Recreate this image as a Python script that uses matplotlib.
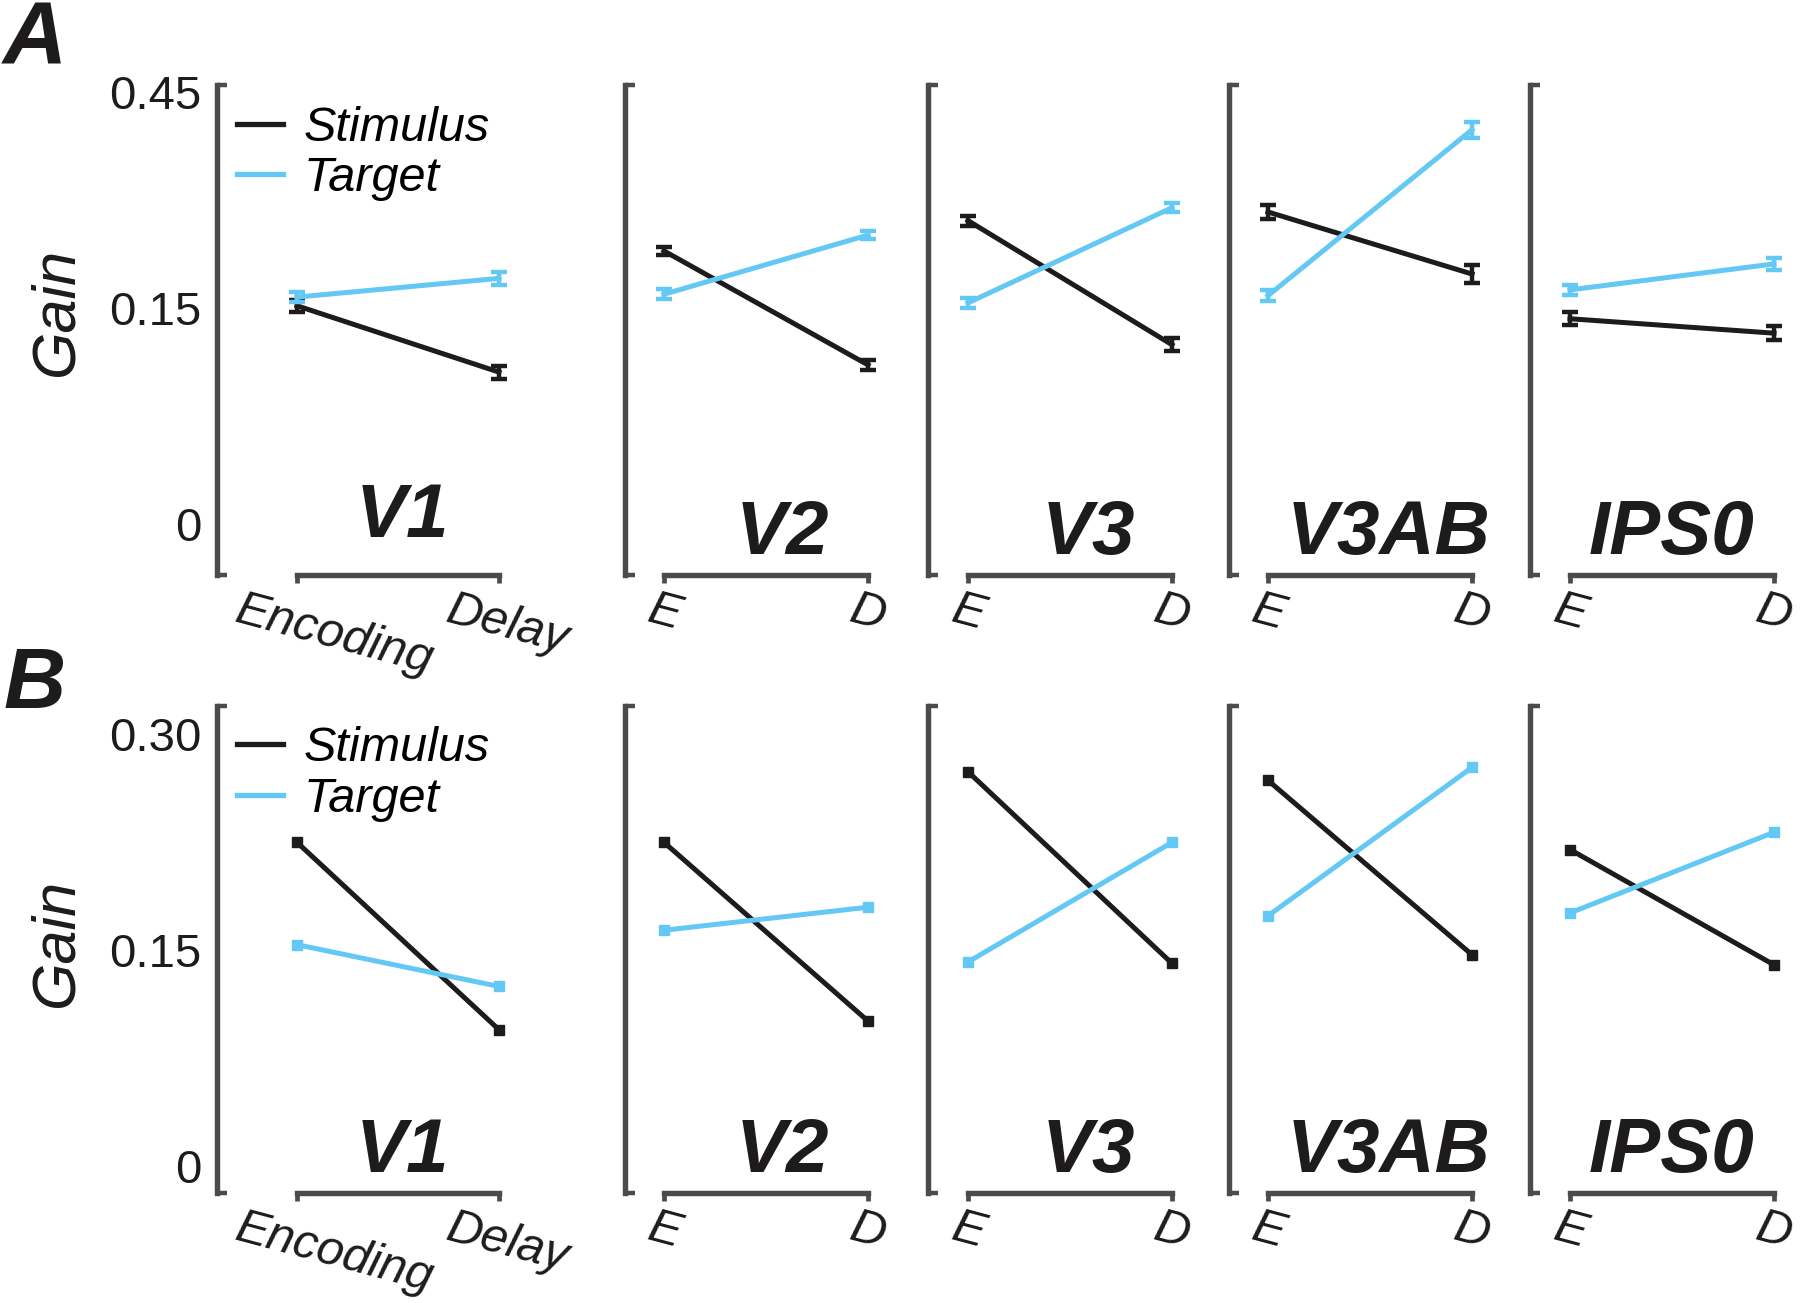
import numpy as np
import matplotlib.pyplot as plt
import matplotlib.transforms as mtransforms
from matplotlib.lines import Line2D

plt.rcParams['font.family'] = ['Liberation Sans', 'DejaVu Sans']

# ---- data ----
regions = ['V1', 'V2', 'V3', 'V3AB', 'IPS0']
xlabels_v1 = ['Encoding', 'Delay']
xlabels_short = ['E', 'D']
series_names = ['Stimulus', 'Target']

# panel A: gain (encoding, delay) with SEM
a_stim = [[0.155, 0.109], [0.193, 0.114], [0.214, 0.128], [0.220, 0.177], [0.146, 0.136]]
a_stim_err = [[0.004, 0.0045], [0.003, 0.0035], [0.0035, 0.0045], [0.005, 0.006], [0.0045, 0.005]]
a_targ = [[0.161, 0.174], [0.163, 0.204], [0.157, 0.223], [0.162, 0.277], [0.166, 0.184]]
a_targ_err = [[0.0035, 0.0045], [0.0035, 0.003], [0.0035, 0.003], [0.0038, 0.0055], [0.0035, 0.004]]
a_yticks = [0, 0.15, 0.30]
a_yticklabels = ['0', '0.15', '0.45']

# panel B: gain (encoding, delay)
b_stim = [[0.228, 0.098], [0.228, 0.104], [0.277, 0.144], [0.271, 0.150], [0.223, 0.143]]
b_targ = [[0.157, 0.128], [0.167, 0.183], [0.145, 0.228], [0.177, 0.280], [0.179, 0.235]]
b_yticks = [0, 0.15, 0.30]
b_yticklabels = ['0', '0.15', '0.30']

# ---- styling / layout (pixels of an 1800x1303 canvas) ----
W, H = 1800, 1303
BLACK = '#1d1b1c'
BLUE = '#63c8f3'
GRAY = '#4b4b4b'
TXT = '#1d1b1c'

spine_x = [217, 625, 928, 1229, 1530]
e_x = [297, 664, 968, 1268, 1570]
d_x = [499, 868, 1172, 1472, 1774]
row_top = [85, 706]
row_bot = [575, 1193]
row_ylim = [(-0.0316, 0.3080), (-0.0153, 0.3226)]
gain_y = [311, 942]
title_x = [0.52, 0.58, 0.59, 0.59, 0.50]
title_y = [[0.078, 0.043, 0.043, 0.043, 0.043],
           [0.043, 0.043, 0.043, 0.043, 0.043]]

fig = plt.figure(figsize=(W / 100, H / 100), dpi=100)


def make_axes(row, i):
    left = spine_x[i]
    right = d_x[i] + 20
    ax = fig.add_axes([left / W, 1 - row_bot[row] / H,
                       (right - left) / W, (row_bot[row] - row_top[row]) / H])
    span = d_x[i] - e_x[i]
    ax.set_xlim(-(e_x[i] - left) / span, 1 + 20 / span)
    ax.set_ylim(*row_ylim[row])
    for s in ['top', 'right']:
        ax.spines[s].set_visible(False)
    for s in ['left', 'bottom']:
        ax.spines[s].set_linewidth(3.9)
        ax.spines[s].set_color(GRAY)
    ax.spines['bottom'].set_bounds(0, 1)
    ax.patch.set_visible(False)
    return ax


for row in range(2):
    stim = a_stim if row == 0 else b_stim
    targ = a_targ if row == 0 else b_targ
    yt = a_yticks if row == 0 else b_yticks
    ytl = a_yticklabels if row == 0 else b_yticklabels
    for i, name in enumerate(regions):
        ax = make_axes(row, i)
        x = [0, 1]
        if row == 0:
            ax.errorbar(x, stim[i], yerr=a_stim_err[i], color=BLACK, lw=3.6,
                        elinewidth=3.2, capsize=5.6, capthick=3.2, zorder=3)
            ax.errorbar(x, targ[i], yerr=a_targ_err[i], color=BLUE, lw=3.6,
                        elinewidth=3.2, capsize=5.6, capthick=3.2, zorder=4)
        else:
            ax.plot(x, stim[i], color=BLACK, lw=3.6, marker='s', ms=6.5, zorder=3)
            ax.plot(x, targ[i], color=BLUE, lw=3.6, marker='s', ms=6.5, zorder=4)

        # x axis
        ax.set_xticks([0, 1])
        labels = xlabels_v1 if i == 0 else xlabels_short
        ax.set_xticklabels(labels, rotation=-15, ha='center', va='top',
                           fontsize=35, fontstyle='italic', color=TXT)
        ax.tick_params(axis='x', direction='out', length=6, width=3.4,
                       color=GRAY, pad=3)
        if i == 0:
            for lab, dx in zip(ax.get_xticklabels(), [27, 6]):
                lab.set_transform(lab.get_transform() +
                                  mtransforms.ScaledTranslation(dx / 72, 0, fig.dpi_scale_trans))

        # y axis: labels only on the first panel, bracket ends on all
        ax.set_yticks(yt)
        if i == 0:
            ax.set_yticklabels(ytl, fontsize=34, color=TXT, va='center')
        else:
            ax.set_yticklabels([])
        ax.tick_params(axis='y', which='major', length=0, pad=11)
        ax.set_yticks(list(row_ylim[row]), minor=True)
        ax.tick_params(axis='y', which='minor', direction='in', length=7,
                       width=3.2, color=GRAY)

        ax.text(title_x[i], title_y[row][i], name,
                transform=mtransforms.blended_transform_factory(ax.transData, ax.transAxes),
                ha='center', va='baseline', fontsize=55, fontweight='bold',
                fontstyle='italic', color=TXT)

        if i == 0:
            handles = [Line2D([], [], color=BLACK, lw=3.8),
                       Line2D([], [], color=BLUE, lw=3.8)]
            ax.legend(handles, series_names, loc='upper left',
                      bbox_to_anchor=(0.066, 0.958), frameon=False,
                      borderpad=0, borderaxespad=0, handlelength=0.95,
                      handletextpad=0.42, labelspacing=0.12,
                      prop={'size': 35, 'style': 'italic'})

    # y label
    fig.text(57 / W, 1 - gain_y[row] / H, 'Gain', rotation=90, ha='center',
             va='center', fontsize=44, fontstyle='italic', color=TXT)

# panel letters
fig.text(3 / W, 1 - 0 / H, 'A', ha='left', va='top', fontsize=64,
         fontweight='bold', fontstyle='italic', color=TXT)
fig.text(3 / W, 1 - 646 / H, 'B', ha='left', va='top', fontsize=62,
         fontweight='bold', fontstyle='italic', color=TXT)

fig.savefig('out.png', dpi=100)
